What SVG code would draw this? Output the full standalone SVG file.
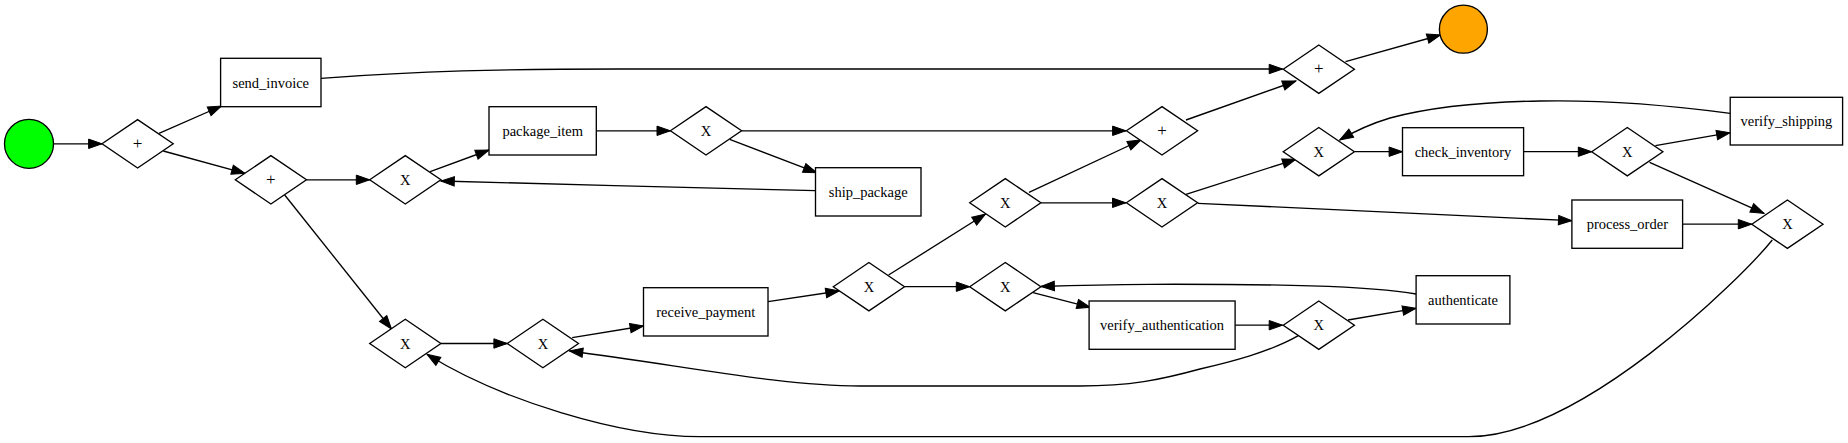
<svg xmlns="http://www.w3.org/2000/svg" width="1848" height="443" viewBox="0 0 1848 443">
<style>
.n{fill:#fff;stroke:#000;stroke-width:1.34}
.t{font-family:"Liberation Serif","Times New Roman",serif;font-size:14.5px;text-anchor:middle;fill:#000}
.p{font-family:"Liberation Serif","Times New Roman",serif;font-size:17px;text-anchor:middle;fill:#000}
.e{fill:none;stroke:#000;stroke-width:1.34;marker-end:url(#a)}
</style>
<defs>
<marker id="a" markerUnits="userSpaceOnUse" markerWidth="14" markerHeight="10" refX="13.4" refY="4.7" orient="auto" overflow="visible">
<path d="M0,0 L13.4,4.7 L0,9.4 z" fill="#000" stroke="#000" stroke-width="1"/>
</marker>
</defs>
<rect width="1848" height="443" fill="#fff"/>
<g id="edges">
<path class="e" d="M53.5,143.8 L102,143.8"/>
<path class="e" d="M159,133.3 L221.4,106"/>
<path class="e" d="M163.3,151 L245,173.3"/>
<path class="e" d="M306.4,179.8 L369.7,179.8"/>
<path class="e" d="M430.2,171.7 L489,150"/>
<path class="e" d="M596.3,130.8 L670.4,130.8"/>
<path class="e" d="M741.6,130.8 L1126,130.8"/>
<path class="e" d="M729.7,139.3 L816.7,172.7"/>
<path class="e" d="M815.5,190.7 C700,188 560,184 440.9,181"/>
<path class="e" d="M284.7,195 L391.5,329"/>
<path class="e" d="M440.9,343.5 L507.3,343.5"/>
<path class="e" d="M572.2,337.7 L643.5,326"/>
<path class="e" d="M768,301.7 L839.2,291"/>
<path class="e" d="M888.6,275 L985.5,214"/>
<path class="e" d="M904.5,286.7 L969.7,286.7"/>
<path class="e" d="M1033,292.7 L1090.3,307.3"/>
<path class="e" d="M1235.1,325.2 L1282.6,325.2"/>
<path class="e" d="M1348,320 L1416,308.3"/>
<path class="e" d="M1416.1,294 C1370,285.5 1270,284 1150,284.3 C1100,284.5 1070,285.5 1041,286.5"/>
<path class="e" d="M1298.3,335.7 C1270,352 1230,362 1200,369 C1160,380 1130,386 1080,386 L860,386 C780,386 680,365 569.4,351"/>
<path class="e" d="M1029,192.3 L1141,140"/>
<path class="e" d="M1040.9,202.8 L1125.9,202.8"/>
<path class="e" d="M1186,120 L1295.9,81"/>
<path class="e" d="M321,78.3 C420,71 500,69 620,69 L1282.6,69"/>
<path class="e" d="M1345.5,61.7 L1440.5,35"/>
<path class="e" d="M1186,194.3 L1295.9,159.3"/>
<path class="e" d="M1197.9,203.3 L1571.9,220.7"/>
<path class="e" d="M1355,151.7 L1402.5,151.7"/>
<path class="e" d="M1523.6,151.7 L1591.7,151.7"/>
<path class="e" d="M1655.4,145.7 L1730,132.7"/>
<path class="e" d="M1730.2,113.3 C1660,104 1590,100 1540,101 C1470,102 1420,110 1390,118 C1370,124 1355,131 1339.7,140"/>
<path class="e" d="M1649.6,162.3 L1764,213.3"/>
<path class="e" d="M1682.6,224.2 L1751.7,224.2"/>
<path class="e" d="M1772.3,240 C1740,280 1580,436.7 1468.6,436.7 L700,436.7 C620,436.7 500,400 427,354.3"/>
</g>
<g id="start"><circle cx="29" cy="143.8" r="24.5" fill="#00ff00" stroke="#000" stroke-width="1.34"/></g>
<g id="end"><circle cx="1463.4" cy="29.2" r="24" fill="#ffa500" stroke="#000" stroke-width="1.34"/></g>
<g id="gw1"><path class="n" d="M102,143.8 L137.6,119.6 L173.2,143.8 L137.6,168 z"/><text class="p" x="137.6" y="148.8">+</text></g>
<g id="send_invoice"><rect class="n" x="220.6" y="58.3" width="100.4" height="48.4"/><text class="t" x="270.8" y="87.5">send_invoice</text></g>
<g id="gw2"><path class="n" d="M235.3,179.8 L270.9,155.6 L306.5,179.8 L270.9,204 z"/><text class="p" x="270.9" y="184.8">+</text></g>
<g id="gw3"><path class="n" d="M369.7,179.8 L405.3,155.6 L440.9,179.8 L405.3,204 z"/><text class="t" x="405.3" y="184.8">X</text></g>
<g id="package_item"><rect class="n" x="489" y="106.7" width="107.3" height="48.3"/><text class="t" x="542.7" y="135.8">package_item</text></g>
<g id="gw4"><path class="n" d="M670.4,130.8 L706,106.6 L741.6,130.8 L706,155 z"/><text class="t" x="706" y="135.8">X</text></g>
<g id="ship_package"><rect class="n" x="815.5" y="167.7" width="105.5" height="48.3"/><text class="t" x="868.2" y="196.8">ship_package</text></g>
<g id="gw5"><path class="n" d="M1126.4,130.8 L1162,106.6 L1197.6,130.8 L1162,155 z"/><text class="p" x="1162" y="135.8">+</text></g>
<g id="gw8"><path class="n" d="M1283.2,69.2 L1318.8,45 L1354.4,69.2 L1318.8,93.4 z"/><text class="p" x="1318.8" y="74.2">+</text></g>
<g id="gw6"><path class="n" d="M969.7,202.8 L1005.3,178.6 L1040.9,202.8 L1005.3,227 z"/><text class="t" x="1005.3" y="207.8">X</text></g>
<g id="gw7"><path class="n" d="M1126.4,202.8 L1162,178.6 L1197.6,202.8 L1162,227 z"/><text class="t" x="1162" y="207.8">X</text></g>
<g id="gw9"><path class="n" d="M1283.2,151.7 L1318.8,127.5 L1354.4,151.7 L1318.8,175.9 z"/><text class="t" x="1318.8" y="156.7">X</text></g>
<g id="check_inventory"><rect class="n" x="1402.5" y="127.7" width="121.1" height="48"/><text class="t" x="1463" y="156.7">check_inventory</text></g>
<g id="gw10"><path class="n" d="M1591.7,151.7 L1627.3,127.5 L1662.9,151.7 L1627.3,175.9 z"/><text class="t" x="1627.3" y="156.7">X</text></g>
<g id="verify_shipping"><rect class="n" x="1730.2" y="97.3" width="112.4" height="47.7"/><text class="t" x="1786.4" y="126.2">verify_shipping</text></g>
<g id="process_order"><rect class="n" x="1571.9" y="200" width="110.7" height="48.3"/><text class="t" x="1627.3" y="229.2">process_order</text></g>
<g id="gw11"><path class="n" d="M1751.8,224.2 L1787.4,200 L1823,224.2 L1787.4,248.4 z"/><text class="t" x="1787.4" y="229.2">X</text></g>
<g id="gw16"><path class="n" d="M369.7,343.5 L405.3,319.3 L440.9,343.5 L405.3,367.7 z"/><text class="t" x="405.3" y="348.5">X</text></g>
<g id="gw17"><path class="n" d="M507.3,343.5 L542.9,319.3 L578.5,343.5 L542.9,367.7 z"/><text class="t" x="542.9" y="348.5">X</text></g>
<g id="receive_payment"><rect class="n" x="643.5" y="287.7" width="124.5" height="48.3"/><text class="t" x="705.8" y="316.8">receive_payment</text></g>
<g id="gw13"><path class="n" d="M833.3,286.7 L868.9,262.5 L904.5,286.7 L868.9,310.9 z"/><text class="t" x="868.9" y="291.7">X</text></g>
<g id="gw14"><path class="n" d="M969.7,286.7 L1005.3,262.5 L1040.9,286.7 L1005.3,310.9 z"/><text class="t" x="1005.3" y="291.7">X</text></g>
<g id="verify_authentication"><rect class="n" x="1089.1" y="301" width="146" height="48.3"/><text class="t" x="1162.1" y="330.2">verify_authentication</text></g>
<g id="gw12"><path class="n" d="M1283.2,325.2 L1318.8,301 L1354.4,325.2 L1318.8,349.4 z"/><text class="t" x="1318.8" y="330.2">X</text></g>
<g id="authenticate"><rect class="n" x="1416.1" y="275.7" width="93.8" height="48.3"/><text class="t" x="1463" y="304.8">authenticate</text></g>
</svg>
